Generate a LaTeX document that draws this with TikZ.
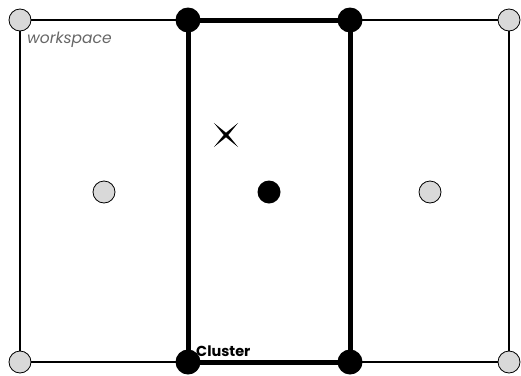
\documentclass[tikz,border=0pt]{standalone}
\usepackage{fontspec}
\setmainfont{Poppins}
\usepackage{tikz}
\usepackage{xcolor}

\tikzset{
  freept/.style={circle,draw=black,thick,fill=gray!30,minimum size=22pt,inner sep=0pt},
  clusterpt/.style={circle,fill=black,minimum size=25pt,inner sep=0pt},
  centerpt/.style={circle,fill=black,minimum size=23pt,inner sep=0pt}
}

\begin{document}
\begin{tikzpicture}[x=1pt,y=-1pt]
  \useasboundingbox (0,0) rectangle (521,375);
  % workspace and cluster borders
  \coordinate (wtl) at (20,20);
  \coordinate (wbr) at (509,362);
  \draw[line width=1.3pt] (wtl) rectangle (wbr);
  \draw[line width=5pt] (188,20) rectangle (350,362);
  % corner points
  \node[freept] (w1) at (20,20) {};
  \node[freept] (w2) at (509,20) {};
  \node[freept] (w3) at (20,362) {};
  \node[freept] (w4) at (509,362) {};
  \node[clusterpt] (c1) at (188,20) {};
  \node[clusterpt] (c2) at (350,20) {};
  \node[clusterpt] (c3) at (188,362) {};
  \node[clusterpt] (c4) at (350,362) {};
  % inner points
  \node[freept] (p1) at (104,192) {};
  \node[freept] (p2) at (430,192) {};
  \node[centerpt] (ctr) at (269,192) {};
  % cross
  \fill[shift={(226,135)},rotate=45]
    (0,-17) -- (1.6,-1.6) -- (17,0) -- (1.6,1.6) -- (0,17)
    -- (-1.6,1.6) -- (-17,0) -- (-1.6,-1.6) -- cycle;
  % labels
  \node[anchor=base west,inner sep=0pt,text=gray!80!black,font=\fontsize{15.5}{18}\selectfont\itshape] (wlab) at (27,43) {workspace};
  \node[anchor=base west,inner sep=0pt,font=\fontsize{14.5}{17}\selectfont\bfseries] (clab) at (196,356) {Cluster};
\end{tikzpicture}
\end{document}
